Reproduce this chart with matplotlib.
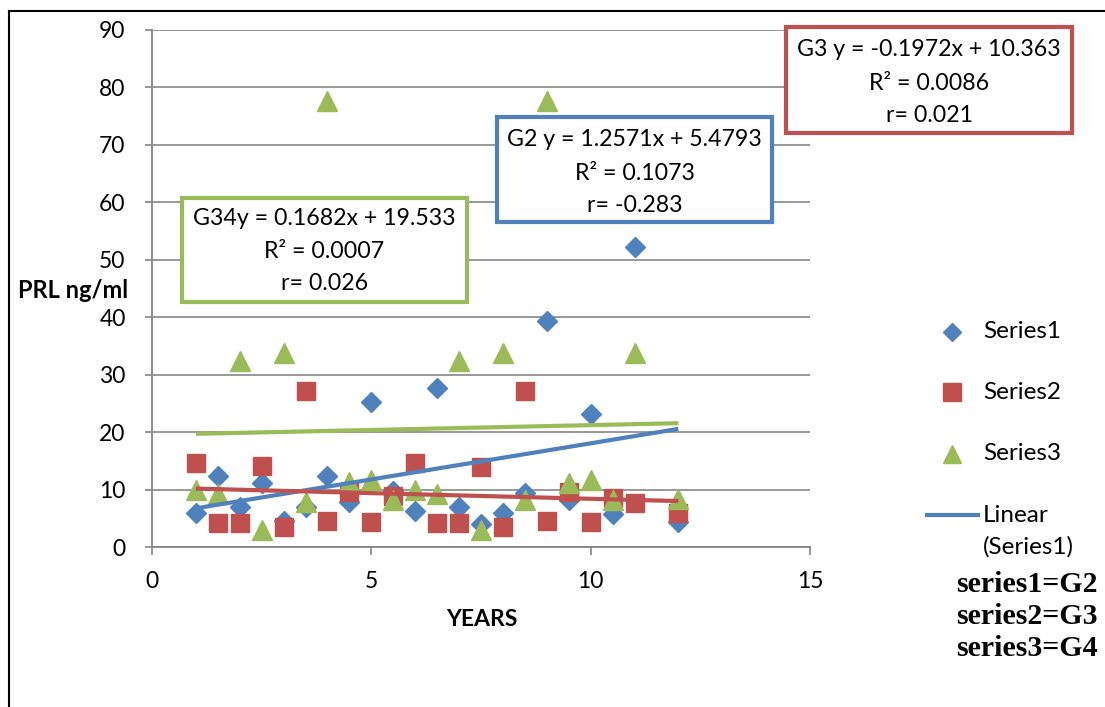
import matplotlib
matplotlib.use("Agg")
import matplotlib.pyplot as plt
import numpy as np
from matplotlib.patches import Rectangle
from matplotlib.lines import Line2D

# ---------------- data ----------------
years = [1, 1.5, 2, 2.5, 3, 3.5, 4, 4.5, 5, 5.5, 6, 6.5, 7, 7.5, 8, 8.5, 9, 9.5, 10, 10.5, 11, 12]
series1 = [5.9, 12.4, 6.9, 11.1, 4.5, 7.0, 12.4, 7.9, 25.3, 9.8, 6.2, 27.6, 6.9, 4.0, 5.9, 9.4, 39.4, 8.2, 23.2, 5.8, 52.2, 4.4]
series2 = [14.7, 4.1, 4.1, 14.1, 3.5, 27.2, 4.6, 9.6, 4.4, 8.8, 14.7, 4.1, 4.1, 14.0, 3.5, 27.2, 4.6, 9.6, 4.4, 8.5, 7.7, 5.9]
series3 = [9.9, 9.3, 32.3, 3.0, 33.7, 7.9, 77.6, 11.4, 11.7, 8.2, 9.9, 9.3, 32.3, 3.0, 33.7, 8.2, 77.6, 11.1, 11.7, 8.2, 33.7, 8.3]
series_names = ["Series1", "Series2", "Series3"]

# trend-line coefficients (slope, intercept) as printed on the chart
trend_g2 = (1.2571, 5.4793)
trend_g3 = (-0.1972, 10.363)
trend_g34 = (0.1682, 19.533)

box_g34 = ["G34y = 0.1682x + 19.533", "R\u00b2 = 0.0007", "r= 0.026"]
box_g2 = ["G2 y = 1.2571x + 5.4793", "R\u00b2 = 0.1073", "r= -0.283"]
box_g3 = ["G3 y = -0.1972x + 10.363", "R\u00b2 = 0.0086", "r= 0.021"]
notes = ["series1=G2", "series2=G3", "series3=G4"]

x_ticks = [0, 5, 10, 15]
y_ticks = [0, 10, 20, 30, 40, 50, 60, 70, 80, 90]

# ---------------- style ----------------
BLUE = "#4F81BD"
RED = "#C0504D"
GREEN = "#9BBB59"
GRID = "#868686"
FONT = "Lato"
FS = 16.5

W, H = 1105, 707
fig = plt.figure(figsize=(W / 100, H / 100), dpi=100)
fig.patch.set_facecolor("white")


def fx(px):
    return px / W


def fy(py):
    return 1 - py / H


ax = fig.add_axes([fx(152), fy(547), fx(810) - fx(152), fy(30) - fy(547)])
ax.set_xlim(0, 15)
ax.set_ylim(0, 90)
ax.set_xticks(x_ticks)
ax.set_yticks(y_ticks)
ax.set_xticklabels([str(v) for v in x_ticks], fontname=FONT, fontsize=FS)
ax.set_yticklabels([str(v) for v in y_ticks], fontname=FONT, fontsize=FS)
ax.tick_params(axis="x", direction="out", length=6, width=1.2, color=GRID, pad=11)
ax.tick_params(axis="y", direction="out", length=5, width=1.2, color=GRID, pad=14)
for s in ["top", "right"]:
    ax.spines[s].set_visible(False)
for s in ["left", "bottom"]:
    ax.spines[s].set_color(GRID)
    ax.spines[s].set_linewidth(1.3)
ax.yaxis.grid(True, color=GRID, linewidth=1.2)
ax.set_axisbelow(True)

ax.plot(years, series1, linestyle="none", marker="D", ms=10.5, color=BLUE, mec=BLUE, zorder=3)
ax.plot(years, series2, linestyle="none", marker="s", ms=13.5, color=RED, mec=RED, zorder=4)
ax.plot(years, series3, linestyle="none", marker="^", ms=15, color=GREEN, mec=GREEN, zorder=5)

xs = np.array([min(years), max(years)])
for (m, b), c in [(trend_g2, BLUE), (trend_g3, RED), (trend_g34, GREEN)]:
    ax.plot(xs, m * xs + b, color=c, linewidth=3.0, zorder=6, solid_capstyle="butt")

ax.set_xlabel("YEARS", fontname=FONT, fontsize=16.5, fontweight="bold")
ax.xaxis.set_label_coords((482 - 152) / 658, (547 - 620) / 517)
ax.xaxis.label.set_va("center")
ax.set_ylabel("PRL ng/ml", fontname=FONT, fontsize=17, fontweight="bold", rotation=0,
              ha="right", va="center")
ax.yaxis.set_label_coords((128 - 152) / 658, (547 - 290) / 517)

# ---------------- equation boxes ----------------
def eq_box(x0, y0, x1, y1, lines, color, ys):
    fig.patches.append(Rectangle((fx(x0), fy(y1)), fx(x1) - fx(x0), fy(y0) - fy(y1),
                                 transform=fig.transFigure, facecolor="white",
                                 edgecolor=color, linewidth=3.0, zorder=10))
    cx = (x0 + x1) / 2
    for t, yy in zip(lines, ys):
        fig.text(fx(cx), fy(yy), t, ha="center", va="center", fontname=FONT,
                 fontsize=16.7, zorder=11)


eq_box(182, 198, 467, 302, box_g34, GREEN, [219, 252, 284])
eq_box(497, 117, 772, 222, box_g2, BLUE, [140, 173, 205])
eq_box(786, 27, 1072, 133, box_g3, RED, [50, 83, 115])

# ---------------- legend (drawn manually) ----------------
leg_markers = [("D", 8.8, BLUE, 332), ("s", 12.5, RED, 392), ("^", 12.5, GREEN, 454)]
for (mk, ms, c, yy), name in zip(leg_markers, series_names):
    fig.add_artist(Line2D([fx(952)], [fy(yy)], marker=mk, ms=ms, color=c, mec=c,
                          linestyle="none", transform=fig.transFigure))
    fig.text(fx(983), fy(yy), name, ha="left", va="center", fontname=FONT, fontsize=17.5)
fig.add_artist(Line2D([fx(927), fx(978)], [fy(515), fy(515)], color=BLUE, linewidth=3.0,
                      transform=fig.transFigure))
fig.text(fx(983), fy(515), "Linear", ha="left", va="center", fontname=FONT, fontsize=17.5)
fig.text(fx(983), fy(547), "(Series1)", ha="left", va="center", fontname=FONT, fontsize=17.5)

for t, yy in zip(notes, [591.5, 624, 656.5]):
    fig.text(fx(956), fy(yy), t, ha="left", va="baseline", fontname="Liberation Serif",
             fontweight="bold", fontsize=21.5)

# ---------------- outer frame ----------------
fig.add_artist(Line2D([fx(8.5), fx(8.5)], [fy(11), 0], color="black", linewidth=1.5,
                      transform=fig.transFigure))
fig.add_artist(Line2D([fx(8.5), 1], [fy(11), fy(11)], color="black", linewidth=1.5,
                      transform=fig.transFigure))

fig.savefig("out.png", dpi=100)
